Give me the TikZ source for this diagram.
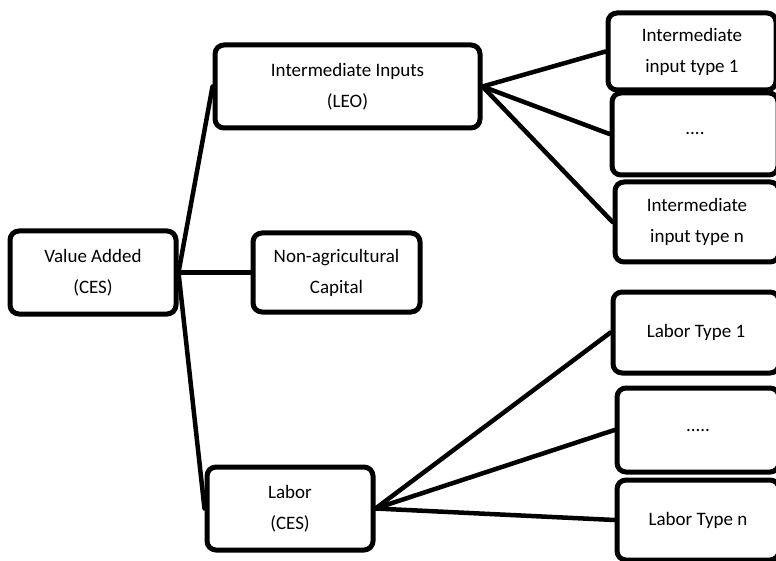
\documentclass[tikz,border=0pt]{standalone}
\usepackage{fontspec}
\setmainfont{Carlito}
\tikzset{
    blockbox/.style={draw, line width=5pt, rounded corners=9pt, fill=white,
        align=center, inner sep=0pt, font=\fontsize{19}{31}\selectfont},
    link/.style={line width=4.5pt, line cap=round}
}
\begin{document}
\begin{tikzpicture}[x=1pt,y=-1pt]
    \useasboundingbox (0,0) rectangle (776,561);
    % Left and middle column %
    \node[blockbox, minimum width=166pt, minimum height=83pt] (va) at (93,272.5) {Value Added\\(CES)};
    \node[blockbox, minimum width=265pt, minimum height=83pt] (ii) at (347.5,86.5) {Intermediate Inputs\\(LEO)};
    \node[blockbox, minimum width=167pt, minimum height=79pt] (nac) at (336.5,272.5) {Non-agricultural\\Capital};
    \node[blockbox, minimum width=166pt, minimum height=83pt] (lab) at (290,508.5) {Labor\\(CES)};

    % Right column %
    \node[blockbox, minimum width=168pt, minimum height=77pt] (ita) at (692,51.5) {Intermediate\\input type 1};
    \node[blockbox, minimum width=166pt, minimum height=82pt] (itb) at (695,134) {....};
    \node[blockbox, minimum width=164pt, minimum height=80pt] (itc) at (697,222) {Intermediate\\input type n};
    \node[blockbox, minimum width=166pt, minimum height=81pt] (lta) at (696,332.5) {Labor Type 1};
    \node[blockbox, minimum width=162pt, minimum height=84pt] (ltb) at (698,430) {.....};
    \node[blockbox, minimum width=162pt, minimum height=80pt] (ltc) at (698,520) {Labor Type n};

    % Connectors %
    \draw[link] (va.east) -- (ii.west);
    \draw[link] (va.east) -- (nac.west);
    \draw[link] (va.east) -- (lab.west);
    \foreach \t in {ita,itb,itc}
        \draw[link] (ii.east) -- (\t.west);
    \foreach \t in {lta,ltb,ltc}
        \draw[link] (lab.east) -- (\t.west);
\end{tikzpicture}
\end{document}
